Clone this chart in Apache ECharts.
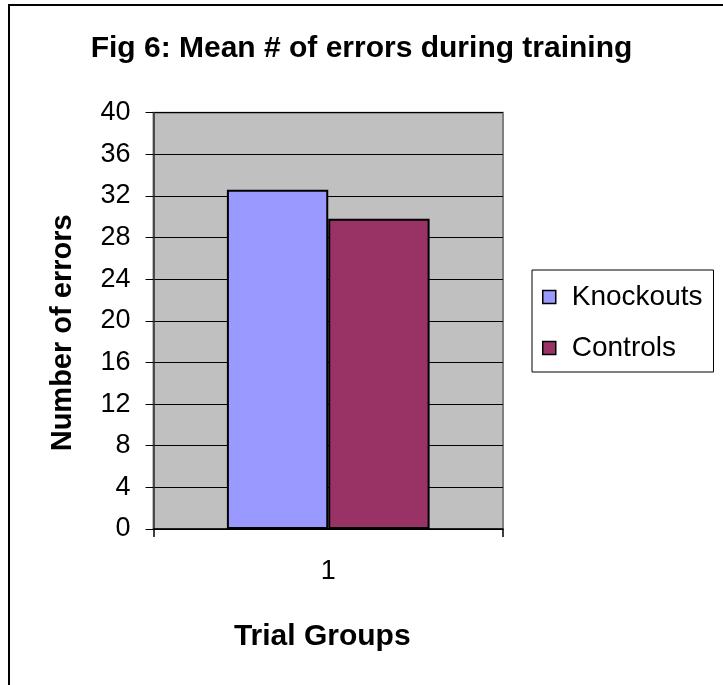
<!DOCTYPE html>
<html>
<head>
<meta charset="utf-8">
<script src="https://cdn.jsdelivr.net/npm/echarts@6/dist/echarts.min.js"></script>
<style>
html,body{margin:0;padding:0;background:#fff;}
#chart{width:723px;height:685px;}
</style>
</head>
<body>
<div id="chart"></div>
<script>
var titleText = 'Fig 6: Mean # of errors during training';
var categories = ['1'];
var seriesNames = ['Knockouts', 'Controls'];
var knockouts = [32.6];
var controls = [29.8];
var yTicks = { min: 0, max: 40, interval: 4 };
var xAxisName = 'Trial Groups';
var yAxisName = 'Number of errors';

var FONT = '"Liberation Sans", Arial, sans-serif';
var chart = echarts.init(document.getElementById('chart'), null, { renderer: 'canvas' });
chart.setOption({
  backgroundColor: '#ffffff',
  animation: false,
  graphic: [{
    type: 'rect',
    shape: { x: 9, y: 5, width: 900, height: 900 },
    style: { fill: 'none', stroke: '#000', lineWidth: 2 },
    z: 100
  }],
  title: {
    text: titleText,
    left: 'center',
    top: 29,
    textStyle: { fontFamily: FONT, fontSize: 30, fontWeight: 'bold', color: '#000' }
  },
  legend: {
    orient: 'vertical',
    left: 532,
    top: 270,
    data: seriesNames,
    icon: 'rect',
    itemWidth: 13,
    itemHeight: 13,
    itemGap: 23,
    padding: [13, 11, 10, 10],
    borderColor: '#000',
    borderWidth: 1,
    backgroundColor: '#fff',
    itemStyle: { borderColor: '#000', borderWidth: 1.5 },
    textStyle: { fontFamily: FONT, fontSize: 28, color: '#000', padding: [0, 0, 0, 11], lineHeight: 28 }
  },
  grid: {
    left: 153.5,
    right: 220,
    top: 112.7,
    bottom: 156,
    show: true,
    backgroundColor: '#c0c0c0',
    borderColor: '#808080',
    borderWidth: 2
  },
  xAxis: {
    type: 'category',
    data: categories,
    name: xAxisName,
    nameLocation: 'middle',
    nameGap: 93,
    nameTextStyle: { fontFamily: FONT, fontSize: 30, fontWeight: 'bold', color: '#000', padding: [0, 12, 0, 0] },
    axisLine: { lineStyle: { color: '#000', width: 1.5 } },
    axisTick: { show: true, length: 8, lineStyle: { color: '#000', width: 1.5 } },
    axisLabel: { fontFamily: FONT, fontSize: 27, color: '#000', margin: 29 },
    splitLine: { show: false }
  },
  yAxis: {
    type: 'value',
    min: yTicks.min,
    max: yTicks.max,
    interval: yTicks.interval,
    name: yAxisName,
    nameLocation: 'middle',
    nameGap: 76,
    nameTextStyle: { fontFamily: FONT, fontSize: 29, fontWeight: 'bold', color: '#000', padding: [0, 24, 0, 0] },
    axisLine: { show: true, lineStyle: { color: '#333', width: 1.5 } },
    axisTick: { show: true, length: 8, lineStyle: { color: '#000', width: 1 } },
    axisLabel: { fontFamily: FONT, fontSize: 27, color: '#000', margin: 23 },
    splitLine: { show: true, lineStyle: { color: '#000', width: 1 } }
  },
  series: [{
    name: seriesNames[0],
    type: 'bar',
    data: knockouts,
    barGap: '0%',
    barCategoryGap: '42%',
    itemStyle: { color: '#9999ff', borderColor: '#000', borderWidth: 2 }
  }, {
    name: seriesNames[1],
    type: 'bar',
    data: controls,
    barGap: '0%',
    barCategoryGap: '42%',
    itemStyle: { color: '#993366', borderColor: '#000', borderWidth: 2 }
  }]
});
</script>
</body>
</html>
